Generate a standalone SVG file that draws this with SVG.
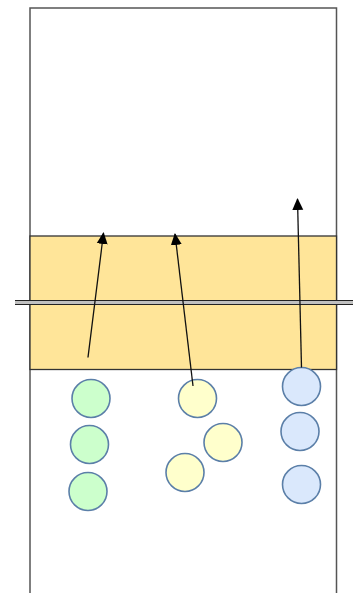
<svg xmlns="http://www.w3.org/2000/svg" width="353" height="593" viewBox="0 0 353 593">
<style>
.frame{fill:#ffffff;stroke:#555555;stroke-width:1.5}
.band{fill:#ffe599;stroke:#333333;stroke-width:1.3}
.c{stroke:#5b7fa8;stroke-width:1.6}
.g{fill:#ccffcc}
.y{fill:#ffffcc}
.b{fill:#dae8fc}
.edge{fill:none;stroke:#111111;stroke-width:1.3;marker-end:url(#arr)}
</style>
<defs>
<marker id="arr" markerWidth="14" markerHeight="14" refX="11" refY="6" orient="auto" markerUnits="userSpaceOnUse">
<path d="M0,0.5 L12,6 L0,11.5 Z" fill="#000000"/>
</marker>
</defs>
<g id="frame">
<path class="frame" d="M30,600 L30,8 L336.5,8 L336.5,600"/>
</g>
<g id="band">
<rect class="band" x="30" y="236" width="306.5" height="133.5"/>
</g>
<g id="divider">
<rect x="15" y="300.5" width="340" height="4" fill="#c0c0c0"/>
<line x1="15" y1="300.5" x2="355" y2="300.5" stroke="#222222" stroke-width="1.2"/>
<line x1="15" y1="304.5" x2="355" y2="304.5" stroke="#222222" stroke-width="1.2"/>
</g>
<g id="green1"><circle class="c g" cx="91" cy="398.5" r="19"/></g>
<g id="green2"><circle class="c g" cx="89.5" cy="444.5" r="19"/></g>
<g id="green3"><circle class="c g" cx="88" cy="491.5" r="19"/></g>
<g id="yellow1"><circle class="c y" cx="197.5" cy="398.5" r="19"/></g>
<g id="yellow2"><circle class="c y" cx="223" cy="442.5" r="19"/></g>
<g id="yellow3"><circle class="c y" cx="185" cy="472.5" r="19"/></g>
<g id="blue1"><circle class="c b" cx="301.5" cy="386.5" r="19"/></g>
<g id="blue2"><circle class="c b" cx="300" cy="431.5" r="19"/></g>
<g id="blue3"><circle class="c b" cx="301.5" cy="484.5" r="19"/></g>
<g id="connectors">
<line class="edge" x1="88" y1="357.5" x2="103.5" y2="233"/>
<line class="edge" x1="193" y1="386" x2="175" y2="234"/>
<line class="edge" x1="301.5" y1="367.5" x2="297.5" y2="199"/>
</g>
</svg>
